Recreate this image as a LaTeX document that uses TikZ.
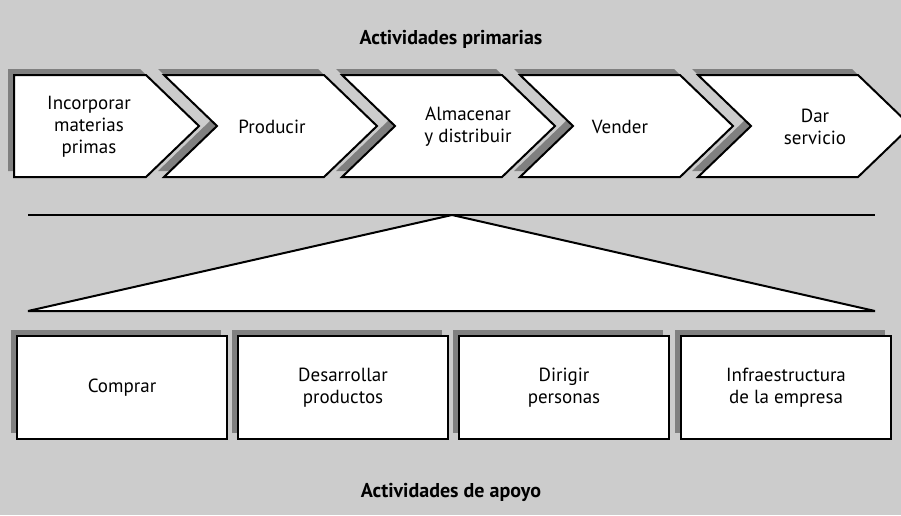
\documentclass[tikz,border=0pt]{standalone}
\usepackage{fontspec}
\setmainfont{PT Sans}
\usetikzlibrary{positioning}
\usetikzlibrary{shadows}

\begin{document}
\begin{tikzpicture}[x=1pt, y=-1pt,
    chev/.style = {draw, fill=white, line width=2pt, line join=miter,
        general shadow={fill=black!50, shadow xshift=-6pt, shadow yshift=6pt}},
    blk/.style = {draw, fill=white, line width=2pt, minimum width=210pt,
        minimum height=103pt, inner sep=0pt, anchor=north west, align=center,
        font=\fontsize{19}{22}\selectfont,
        general shadow={fill=black!50, shadow xshift=-6pt, shadow yshift=6pt}},
    txt/.style = {align=center, font=\fontsize{19}{22}\selectfont},
    head/.style = {font=\bfseries\fontsize{20}{22}\selectfont}]
    \useasboundingbox (0,0) rectangle (901,515);
    \fill[black!20] (0,0) rectangle (901,515);

    \node[head] (prim) at (451,39) {Actividades primarias};
    \node[head] (apoyo) at (451,492) {Actividades de apoyo};

    % primary activities
    \draw[chev] (14,75) -- ++(132,0) -- ++(53,51) -- ++(-53,51) -- ++(-132,0) -- cycle;
    \foreach \l in {164,342,520,698}
        \draw[chev] (\l,75) -- ++(160,0) -- ++(53,51) -- ++(-53,51) -- ++(-160,0)
            -- ++(53,-51) -- cycle;

    \node[txt] (t1) at (89,127) {Incorporar\\materias\\primas};
    \node[txt] (t2) at (272,127) {Producir};
    \node[txt] (t3) at (468,127) {Almacenar\\y distribuir};
    \node[txt] (t4) at (620,127) {Vender};
    \node[txt] (t5) at (815,127) {Dar\\servicio};

    \coordinate (lineL) at (28,215);
    \coordinate (lineR) at (875,215);
    \coordinate (apex) at (452,215);
    \coordinate (baseL) at (28,311);
    \coordinate (baseR) at (875,311);
    \draw[line width=2pt] (lineL) -- (lineR);
    \draw[line width=2pt, fill=white, line join=bevel] (baseL) -- (apex) -- (baseR) -- cycle;

    % support activities
    \node[blk] (b1) at (16,335) {Comprar};
    \node[blk] (b2) at (237,335) {Desarrollar\\productos};
    \node[blk] (b3) at (458,335) {Dirigir\\personas};
    \node[blk] (b4) at (680,335) {Infraestructura\\de la empresa};
\end{tikzpicture}
\end{document}
